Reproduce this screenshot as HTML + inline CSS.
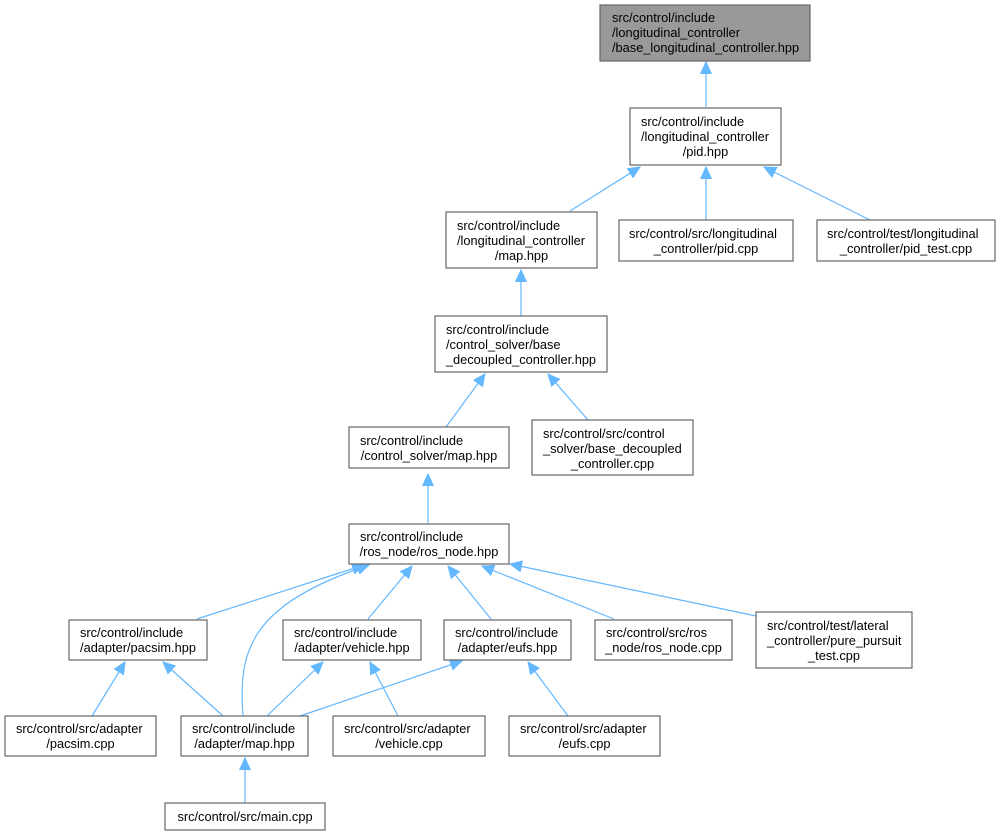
<!DOCTYPE html>
<html><head><meta charset="utf-8"><style>
html,body{margin:0;padding:0;background:#fff;}
svg{display:block;}
text{font-family:"Liberation Sans",Helvetica,Arial,sans-serif;font-size:12.8px;fill:#000;}
.b{fill:#fff;stroke:#666;stroke-width:1.2;}
.e{stroke:#63b8ff;stroke-width:1.2;fill:none;marker-end:url(#a);}
</style></head><body>
<svg width="1000" height="836" viewBox="0 0 1000 836" xmlns="http://www.w3.org/2000/svg">
<defs><marker id="a" markerWidth="14" markerHeight="12" refX="12" refY="6" orient="auto" markerUnits="userSpaceOnUse"><path d="M0,0.5 L12,6 L0,11.5 Z" fill="#63b8ff" stroke="#63b8ff"/></marker></defs>

<line class="e" x1="706" y1="107" x2="706" y2="62"/>
<line class="e" x1="570" y1="211" x2="640" y2="167"/>
<line class="e" x1="706" y1="220" x2="706" y2="167"/>
<line class="e" x1="870" y1="220" x2="764" y2="167"/>
<line class="e" x1="521" y1="316" x2="521" y2="270"/>
<line class="e" x1="446" y1="427" x2="485" y2="374"/>
<line class="e" x1="588" y1="420" x2="548" y2="374"/>
<line class="e" x1="428" y1="523" x2="428" y2="474"/>
<line class="e" x1="197" y1="619" x2="364" y2="565"/>
<path class="e" d="M243,716 C238,650 250,605 369,565"/>
<line class="e" x1="368" y1="619" x2="412" y2="566"/>
<line class="e" x1="491" y1="619" x2="448" y2="566"/>
<line class="e" x1="614" y1="619" x2="482" y2="566"/>
<line class="e" x1="756" y1="616" x2="510" y2="564"/>
<line class="e" x1="92" y1="716" x2="125" y2="662"/>
<line class="e" x1="223" y1="716" x2="163" y2="662"/>
<line class="e" x1="267" y1="716" x2="323" y2="662"/>
<line class="e" x1="398" y1="716" x2="370" y2="662"/>
<line class="e" x1="300" y1="716" x2="462" y2="661"/>
<line class="e" x1="568" y1="716" x2="528" y2="662"/>
<line class="e" x1="245" y1="803" x2="245" y2="758"/>

<rect x="600" y="5" width="210" height="56" style="fill:#999;stroke:#666;stroke-width:1.2"/>
<text x="612" y="22">src/control/include</text><text x="612" y="37">/longitudinal_controller</text><text x="612" y="52">/base_longitudinal_controller.hpp</text>

<rect class="b" x="630" y="108" width="151" height="57"/>
<text x="641" y="126">src/control/include</text><text x="641" y="141">/longitudinal_controller</text><text x="705.5" y="156" text-anchor="middle">/pid.hpp</text>

<rect class="b" x="446" y="212" width="151" height="56"/>
<text x="457" y="230">src/control/include</text><text x="457" y="245">/longitudinal_controller</text><text x="521.5" y="260" text-anchor="middle">/map.hpp</text>

<rect class="b" x="619" y="220" width="174" height="41"/>
<text x="629" y="238">src/control/src/longitudinal</text><text x="706" y="253" text-anchor="middle">_controller/pid.cpp</text>

<rect class="b" x="817" y="220" width="178" height="41"/>
<text x="827" y="238">src/control/test/longitudinal</text><text x="906" y="253" text-anchor="middle">_controller/pid_test.cpp</text>

<rect class="b" x="435" y="316" width="172" height="56"/>
<text x="446" y="334">src/control/include</text><text x="446" y="349">/control_solver/base</text><text x="521" y="364" text-anchor="middle">_decoupled_controller.hpp</text>

<rect class="b" x="349" y="427" width="160" height="41"/>
<text x="360" y="445">src/control/include</text><text x="429" y="460" text-anchor="middle">/control_solver/map.hpp</text>

<rect class="b" x="532" y="420" width="161" height="55"/>
<text x="543" y="438">src/control/src/control</text><text x="543" y="453">_solver/base_decoupled</text><text x="612.5" y="468" text-anchor="middle">_controller.cpp</text>

<rect class="b" x="349" y="524" width="160" height="40"/>
<text x="360" y="541">src/control/include</text><text x="429" y="556" text-anchor="middle">/ros_node/ros_node.hpp</text>

<rect class="b" x="69" y="620" width="138" height="40"/>
<text x="80" y="637">src/control/include</text><text x="138" y="652" text-anchor="middle">/adapter/pacsim.hpp</text>

<rect class="b" x="283" y="620" width="138" height="40"/>
<text x="294" y="637">src/control/include</text><text x="352" y="652" text-anchor="middle">/adapter/vehicle.hpp</text>

<rect class="b" x="444" y="620" width="127" height="40"/>
<text x="455" y="637">src/control/include</text><text x="507.5" y="652" text-anchor="middle">/adapter/eufs.hpp</text>

<rect class="b" x="595" y="620" width="137" height="40"/>
<text x="606" y="637">src/control/src/ros</text><text x="663.5" y="652" text-anchor="middle">_node/ros_node.cpp</text>

<rect class="b" x="756" y="612" width="156" height="56"/>
<text x="767" y="630">src/control/test/lateral</text><text x="767" y="645">_controller/pure_pursuit</text><text x="834" y="660" text-anchor="middle">_test.cpp</text>

<rect class="b" x="5" y="716" width="151" height="40"/>
<text x="16" y="733">src/control/src/adapter</text><text x="80.5" y="748" text-anchor="middle">/pacsim.cpp</text>

<rect class="b" x="181" y="716" width="127" height="40"/>
<text x="192" y="733">src/control/include</text><text x="244.5" y="748" text-anchor="middle">/adapter/map.hpp</text>

<rect class="b" x="333" y="716" width="152" height="40"/>
<text x="344" y="733">src/control/src/adapter</text><text x="409" y="748" text-anchor="middle">/vehicle.cpp</text>

<rect class="b" x="509" y="716" width="151" height="40"/>
<text x="520" y="733">src/control/src/adapter</text><text x="584.5" y="748" text-anchor="middle">/eufs.cpp</text>

<rect class="b" x="165" y="803" width="160" height="27"/>
<text x="245" y="821" text-anchor="middle">src/control/src/main.cpp</text>
</svg>
</body></html>
